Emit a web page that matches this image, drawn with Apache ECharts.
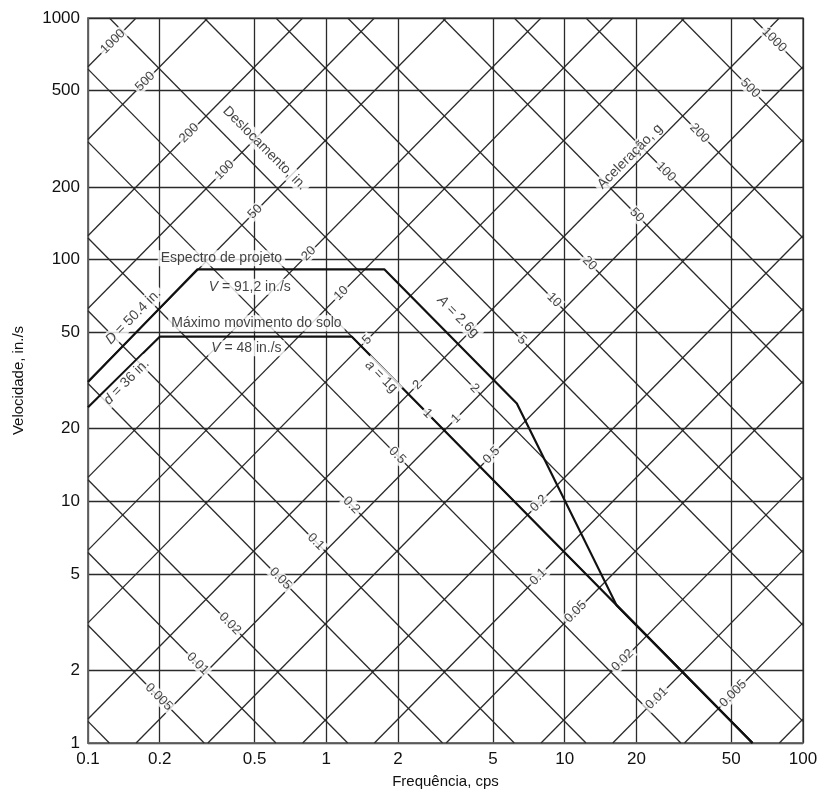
<!DOCTYPE html>
<html><head><meta charset="utf-8">
<script src="https://cdn.jsdelivr.net/npm/echarts@6/dist/echarts.min.js"></script>
<style>html,body{margin:0;padding:0;background:#fff}#c{width:820px;height:799px}</style>
</head><body><div id="c"></div>
<script>
// Axis ticks
const freqTicks = [0.1, 0.2, 0.5, 1, 2, 5, 10, 20, 50, 100];
const velTicks = [1, 2, 5, 10, 20, 50, 100, 200, 500, 1000];
// Diagonal grid families
const dispLines = [0.001, 0.002, 0.005, 0.01, 0.02, 0.05, 0.1, 0.2, 0.5, 1, 2, 5, 10, 20, 50, 100, 200, 500, 1000, 2000, 5000];
const accLines = [0.001, 0.002, 0.005, 0.01, 0.02, 0.05, 0.1, 0.2, 0.5, 1, 2, 5, 10, 20, 50, 100, 200, 500, 1000, 2000, 5000];
// Labelled diagonals
const dispLabels = [1000, 500, 200, 100, 50, 20, 10, 5, 2, 1, 0.5, 0.2, 0.1, 0.05, 0.02, 0.01, 0.005];
const accLabels = [0.005, 0.01, 0.02, 0.05, 0.1, 0.2, 0.5, 1, 2, 5, 10, 20, 50, 100, 200, 500, 1000];
// Spectra (frequency cps, velocity in./s)
const groundFreq = [0.1, 0.2, 1.28, 61.4];
const groundVel = [24.5, 48, 48, 1];
const designFreq = [0.1, 0.288, 1.75, 6.3, 16.5, 61.4];
const designVel = [31.2, 91.2, 91.2, 25.4, 3.72, 1];
const G = 386.1; // in./s^2

// label anchor velocities along each diagonal (placement only)
const dispLabelVel = [799, 546, 334, 235, 158, 106, 72.6, 46.5, 30.3, 22.0, 15.5, 9.8, 4.87, 3.49, 2.2, 1.53, 1.6];
const accLabelVel = [1.55, 2.13, 3.12, 4.79, 6.8, 9.64, 15.5, 23.1, 29.35, 46.5, 68.1, 96.6, 153, 231, 334, 512, 812];
// annotation texts with anchor [freq, vel] and rotation (placement only)
const notes = [
  {t: 'Espectro de projeto', p: [0.363, 101.4], r: 0},
  {t: '{i|V} = 91,2 in./s', p: [0.477, 77.3], r: 0},
  {t: 'Máximo movimento do solo', p: [0.509, 54.5], r: 0},
  {t: '{i|V} = 48 in./s', p: [0.462, 43.0], r: 0},
  {t: '{i|D} = 50.4 in.', p: [0.155, 58.1], r: 45},
  {t: '{i|d} = 36 in.', p: [0.145, 31.2], r: 45},
  {t: '{i|a} = 1g', p: [1.70, 32.8], r: -45},
  {t: '{i|A} = 2.6g', p: [3.57, 58.1], r: -45},
  {t: 'Deslocamento, in.', p: [0.551, 289], r: -45},
  {t: 'Aceleração, g', p: [18.8, 267], r: 45}
];

const TWO_PI = 2 * Math.PI;
const FMIN = 0.1, FMAX = 100, VMIN = 1, VMAX = 1000;

function dispSeg(D) {
  const lo = Math.max(FMIN, VMIN / (TWO_PI * D));
  const hi = Math.min(FMAX, VMAX / (TWO_PI * D));
  if (lo >= hi) return null;
  return {coords: [[lo, TWO_PI * lo * D], [hi, TWO_PI * hi * D]]};
}
function accSeg(a) {
  const A = a * G;
  const lo = Math.max(FMIN, A / (TWO_PI * VMAX));
  const hi = Math.min(FMAX, A / (TWO_PI * VMIN));
  if (lo >= hi) return null;
  return {coords: [[lo, A / (TWO_PI * lo)], [hi, A / (TWO_PI * hi)]]};
}

const FONT = 'Liberation Sans, Arial, sans-serif';
const TXT = '#111';
const LINE = '#2a2a2a';

const option = {
  animation: false,
  backgroundColor: '#fff',
  grid: {left: 88, right: 17, top: 18, bottom: 56, show: true, borderColor: '#6a6a6a', borderWidth: 1.6, outerBoundsMode: 'none', containLabel: false},
  xAxis: {
    type: 'log', logBase: 10, min: FMIN, max: FMAX,
    name: 'Frequência, cps', nameLocation: 'middle', nameGap: 31,
    nameTextStyle: {fontSize: 15, color: TXT, fontFamily: FONT},
    axisLine: {show: true, lineStyle: {color: '#6a6a6a', width: 1.6}},
    axisTick: {show: false, customValues: freqTicks},
    axisLabel: {customValues: freqTicks, fontSize: 17, color: TXT, fontFamily: FONT, margin: 8, formatter: v => String(v)},
    splitLine: {show: true, lineStyle: {color: LINE, width: 1.3}},
    minorSplitLine: {show: false}
  },
  yAxis: {
    type: 'log', logBase: 10, min: VMIN, max: VMAX,
    name: 'Velocidade, in./s', nameLocation: 'middle', nameGap: 62,
    nameTextStyle: {fontSize: 15, color: TXT, fontFamily: FONT},
    axisLine: {show: true, lineStyle: {color: '#6a6a6a', width: 1.6}},
    axisTick: {show: false, customValues: velTicks},
    axisLabel: {customValues: velTicks, fontSize: 17, color: TXT, fontFamily: FONT, margin: 8, formatter: v => String(v)},
    splitLine: {show: true, lineStyle: {color: LINE, width: 1.3}}
  },
  series: [
    {
      type: 'lines', coordinateSystem: 'cartesian2d', silent: true, z: 2,
      lineStyle: {color: LINE, width: 1.3, opacity: 1},
      data: dispLines.map(dispSeg).filter(Boolean)
    },
    {
      type: 'lines', coordinateSystem: 'cartesian2d', silent: true, z: 2,
      lineStyle: {color: LINE, width: 1.3, opacity: 1},
      data: accLines.map(accSeg).filter(Boolean)
    },
    {
      type: 'line', silent: true, z: 4, symbol: 'none',
      lineStyle: {color: '#111', width: 2.2},
      data: groundFreq.map((f, i) => [f, groundVel[i]])
    },
    {
      type: 'line', silent: true, z: 4, symbol: 'none',
      lineStyle: {color: '#111', width: 2.2},
      data: designFreq.map((f, i) => [f, designVel[i]])
    },
    {
      type: 'scatter', silent: true, z: 10, symbolSize: 0,
      label: {show: true, position: 'inside', rotate: 45, fontSize: 13, color: TXT, fontFamily: FONT, backgroundColor: '#fff', padding: [0, 2]},
      data: dispLabels.map((d, i) => ({value: [dispLabelVel[i] / (TWO_PI * d), dispLabelVel[i]], label: {formatter: String(d)}}))
    },
    {
      type: 'scatter', silent: true, z: 10, symbolSize: 0,
      label: {show: true, position: 'inside', rotate: -45, fontSize: 13, color: TXT, fontFamily: FONT, backgroundColor: '#fff', padding: [0, 2]},
      data: accLabels.map((a, i) => ({value: [a * G / (TWO_PI * accLabelVel[i]), accLabelVel[i]], label: {formatter: String(a)}}))
    },
    {
      type: 'scatter', silent: true, z: 11, symbolSize: 0,
      label: {show: true, position: 'inside', fontSize: 14, color: TXT, fontFamily: FONT, backgroundColor: '#fff', padding: [1, 3],
        rich: {i: {fontStyle: 'italic', fontSize: 14, fontFamily: FONT, color: TXT}}},
      data: notes.map(n => ({value: n.p, label: {formatter: n.t, rotate: n.r}}))
    }
  ]
};

const chart = echarts.init(document.getElementById('c'), null, {renderer: 'canvas'});
chart.setOption(option);
</script></body></html>
